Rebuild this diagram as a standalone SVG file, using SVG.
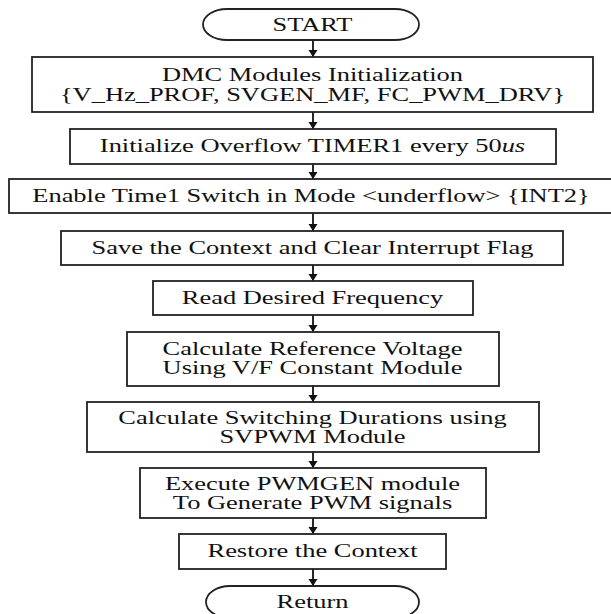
<svg xmlns="http://www.w3.org/2000/svg" width="611" height="614" viewBox="0 0 611 614">
<style>
.box{fill:#fff;stroke:#222;stroke-width:1.8}
.lbl{font-family:"Liberation Serif","Times New Roman",serif;font-size:18px;fill:#111;text-anchor:middle}
.conn{stroke:#111;stroke-width:1.8;fill:none}
</style>
<defs>
<marker id="ah" markerUnits="userSpaceOnUse" markerWidth="10" markerHeight="10" refX="7" refY="4.5" orient="auto">
<path d="M0,0 L7,4.5 L0,9 z" fill="#111"/>
</marker>
</defs>
<rect width="611" height="614" fill="#fff"/>
<g id="connectors">
<line class="conn" x1="313" y1="40" x2="313" y2="57" marker-end="url(#ah)"/>
<line class="conn" x1="313" y1="112" x2="313" y2="129" marker-end="url(#ah)"/>
<line class="conn" x1="313" y1="164" x2="313" y2="179" marker-end="url(#ah)"/>
<line class="conn" x1="313" y1="213" x2="313" y2="231" marker-end="url(#ah)"/>
<line class="conn" x1="313" y1="265" x2="313" y2="281" marker-end="url(#ah)"/>
<line class="conn" x1="313" y1="315" x2="313" y2="332" marker-end="url(#ah)"/>
<line class="conn" x1="313" y1="386" x2="313" y2="402" marker-end="url(#ah)"/>
<line class="conn" x1="313" y1="452" x2="313" y2="468" marker-end="url(#ah)"/>
<line class="conn" x1="313" y1="518" x2="313" y2="534" marker-end="url(#ah)"/>
<line class="conn" x1="313" y1="569" x2="313" y2="586" marker-end="url(#ah)"/>
</g>
<g id="start">
<rect class="box" x="203" y="9" width="216" height="31" rx="24" ry="15.5"/>
<text class="lbl" transform="translate(312.5,0) scale(1.47,1)" x="0" y="31">START</text>
</g>
<g id="dmc">
<rect class="box" x="32" y="57" width="561" height="55"/>
<text class="lbl" transform="translate(312.5,0) scale(1.47,1)" x="0" y="81">DMC Modules Initialization</text>
<text class="lbl" transform="translate(312.5,0) scale(1.47,1)" x="0" y="101">{V_Hz_PROF, SVGEN_MF, FC_PWM_DRV}</text>
</g>
<g id="timer">
<rect class="box" x="70" y="129" width="486" height="35"/>
<text class="lbl" transform="translate(312.5,0) scale(1.47,1)" x="0" y="152">Initialize Overflow TIMER1 every 50<tspan font-style="italic">us</tspan></text>
</g>
<g id="enable">
<rect class="box" x="9" y="179" width="610" height="34"/>
<text class="lbl" transform="translate(311,0) scale(1.47,1)" x="0" y="202">Enable Time1 Switch in Mode &lt;underflow&gt; {INT2}</text>
</g>
<g id="save">
<rect class="box" x="61" y="231" width="502" height="34"/>
<text class="lbl" transform="translate(312.5,0) scale(1.47,1)" x="0" y="254">Save the Context and Clear Interrupt Flag</text>
</g>
<g id="read">
<rect class="box" x="153" y="281" width="320" height="34"/>
<text class="lbl" transform="translate(312.5,0) scale(1.47,1)" x="0" y="304">Read Desired Frequency</text>
</g>
<g id="calcref">
<rect class="box" x="127" y="332" width="372" height="54"/>
<text class="lbl" transform="translate(312.5,0) scale(1.47,1)" x="0" y="355">Calculate Reference Voltage</text>
<text class="lbl" transform="translate(312.5,0) scale(1.47,1)" x="0" y="374">Using V/F Constant Module</text>
</g>
<g id="switching">
<rect class="box" x="87" y="402" width="452" height="50"/>
<text class="lbl" transform="translate(312.5,0) scale(1.47,1)" x="0" y="424">Calculate Switching Durations using</text>
<text class="lbl" transform="translate(312.5,0) scale(1.47,1)" x="0" y="443">SVPWM Module</text>
</g>
<g id="execute">
<rect class="box" x="140" y="468" width="346" height="50"/>
<text class="lbl" transform="translate(312.5,0) scale(1.47,1)" x="0" y="490">Execute PWMGEN module</text>
<text class="lbl" transform="translate(312.5,0) scale(1.47,1)" x="0" y="509">To Generate PWM signals</text>
</g>
<g id="restore">
<rect class="box" x="179" y="534" width="267" height="35"/>
<text class="lbl" transform="translate(312.5,0) scale(1.47,1)" x="0" y="557">Restore the Context</text>
</g>
<g id="return">
<rect class="box" x="206" y="586" width="213" height="32" rx="24" ry="16"/>
<text class="lbl" transform="translate(312.5,0) scale(1.47,1)" x="0" y="608">Return</text>
</g>
</svg>
